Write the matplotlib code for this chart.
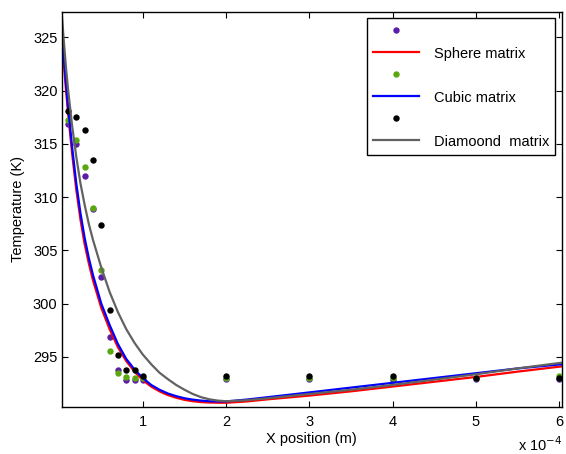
import matplotlib
matplotlib.use("Agg")
import matplotlib.pyplot as plt
from matplotlib.ticker import FuncFormatter, FixedLocator
import numpy as np

plt.rcParams['font.family'] = ['Liberation Sans', 'DejaVu Sans']

# scatter x positions (units of 1e-4 m)
pts_x = [0.1, 0.2, 0.3, 0.4, 0.5, 0.6, 0.7, 0.8, 0.9, 1.0, 2.0, 3.0, 4.0, 5.0, 6.0]
sphere_pts = [316.9, 315.0, 312.0, 308.9, 302.5, 296.9, 293.8, 292.8, 292.8, 292.8, 292.9, 292.9, 292.85, 292.9, 292.9]
cubic_pts = [317.2, 315.4, 312.85, 309.0, 303.15, 295.55, 293.5, 293.1, 293.0, 293.0, 293.0, 293.0, 293.0, 293.0, 293.2]
diamond_pts = [318.05, 317.5, 316.3, 313.5, 307.4, 299.4, 295.2, 293.8, 293.8, 293.2, 293.2, 293.2, 293.2, 293.0, 293.0]

# model curves (units of 1e-4 m)
curve_x = [0.0, 0.025, 0.05, 0.075, 0.1, 0.15, 0.2, 0.25, 0.3, 0.35, 0.4, 0.5, 0.6, 0.7, 0.8, 0.9, 1.0,
           1.1, 1.2, 1.3, 1.4, 1.5, 1.6, 1.7, 1.8, 1.9, 2.0, 2.25, 2.5, 3.0, 3.5, 4.0, 4.5, 5.0, 5.5, 6.04]
sphere_curve = [327.6, 325.2, 322.6, 320.2, 318.0, 314.1, 310.7, 307.9, 305.6, 303.8, 302.2, 299.6, 297.6, 295.9, 294.6,
                293.6, 292.8, 292.2, 291.75, 291.4, 291.15, 290.95, 290.82, 290.74, 290.7, 290.68, 290.68, 290.8, 291.0,
                291.35, 291.75, 292.2, 292.65, 293.1, 293.6, 294.1]
cubic_curve = [328.2, 325.7, 323.2, 320.8, 318.6, 314.7, 311.3, 308.5, 306.2, 304.3, 302.7, 300.0, 298.0, 296.2, 294.8,
               293.8, 293.0, 292.35, 291.9, 291.55, 291.3, 291.1, 290.97, 290.88, 290.82, 290.8, 290.8, 290.98, 291.2,
               291.65, 292.1, 292.55, 293.0, 293.45, 293.9, 294.3]
diamond_curve = [330.0, 327.3, 324.7, 322.3, 320.2, 316.7, 313.8, 311.3, 309.3, 307.5, 306.0, 303.4, 301.1, 299.2, 297.6,
                 296.3, 295.2, 294.3, 293.5, 292.9, 292.35, 291.9, 291.5, 291.2, 291.0, 290.88, 290.82, 290.92, 291.1,
                 291.5, 291.9, 292.35, 292.85, 293.35, 293.9, 294.45]

scale = 1e-4
x_ticks = [1, 2, 3, 4, 5, 6]
y_ticks = [295, 300, 305, 310, 315, 320, 325]

purple = '#5b1fa6'
green = '#5aa80f'
red = '#ff0000'
blue = '#0000ff'
gray = '#626262'
black = '#000000'

fs = 10.5
fig = plt.figure(figsize=(5.66, 4.54), dpi=100)
ax = fig.add_axes([0.109, 0.104, 0.884, 0.870])

px = np.array(pts_x) * scale
cx = np.array(curve_x) * scale
ms = 4.6
h1, = ax.plot(px, sphere_pts, 'o', color=purple, ms=ms, mec='none')
h2, = ax.plot(cx, sphere_curve, '-', color=red, lw=1.6)
h3, = ax.plot(px, cubic_pts, 'o', color=green, ms=ms, mec='none')
h4, = ax.plot(cx, cubic_curve, '-', color=blue, lw=1.6)
h5, = ax.plot(px, diamond_pts, 'o', color=black, ms=ms, mec='none')
h6, = ax.plot(cx, diamond_curve, '-', color=gray, lw=1.6)

ax.set_xlim(0.025 * scale, 6.036 * scale)
ax.set_ylim(290.3, 327.4)
ax.xaxis.set_major_locator(FixedLocator([t * scale for t in x_ticks]))
ax.xaxis.set_major_formatter(FuncFormatter(lambda v, p: f"{v/scale:.0f}"))
ax.yaxis.set_major_locator(FixedLocator(y_ticks))

ax.tick_params(direction='in', length=4, width=0.8, top=True, right=True, labelsize=fs)
ax.tick_params(axis='x', pad=6)
ax.tick_params(axis='y', pad=3)
for s in ax.spines.values():
    s.set_linewidth(1.0)

ax.set_xlabel('X position (m)', fontsize=fs, labelpad=2)
ax.set_ylabel('Temperature (K)', fontsize=fs, labelpad=6)
ax.text(1.0, -0.112, r'x 10$^{-4}$', transform=ax.transAxes, ha='right', va='baseline', fontsize=fs)

leg = ax.legend([h1, h2, h3, h4, h5, h6],
                ['', 'Sphere matrix', '', 'Cubic matrix', '', 'Diamoond  matrix'],
                loc='upper right', fontsize=fs, numpoints=1, handlelength=3.2,
                handletextpad=1.0, labelspacing=0.55, borderpad=0.42,
                borderaxespad=0.45, fancybox=False, framealpha=1, edgecolor='black')
leg.get_frame().set_linewidth(1.0)

fig.savefig('out.png', dpi=100)
